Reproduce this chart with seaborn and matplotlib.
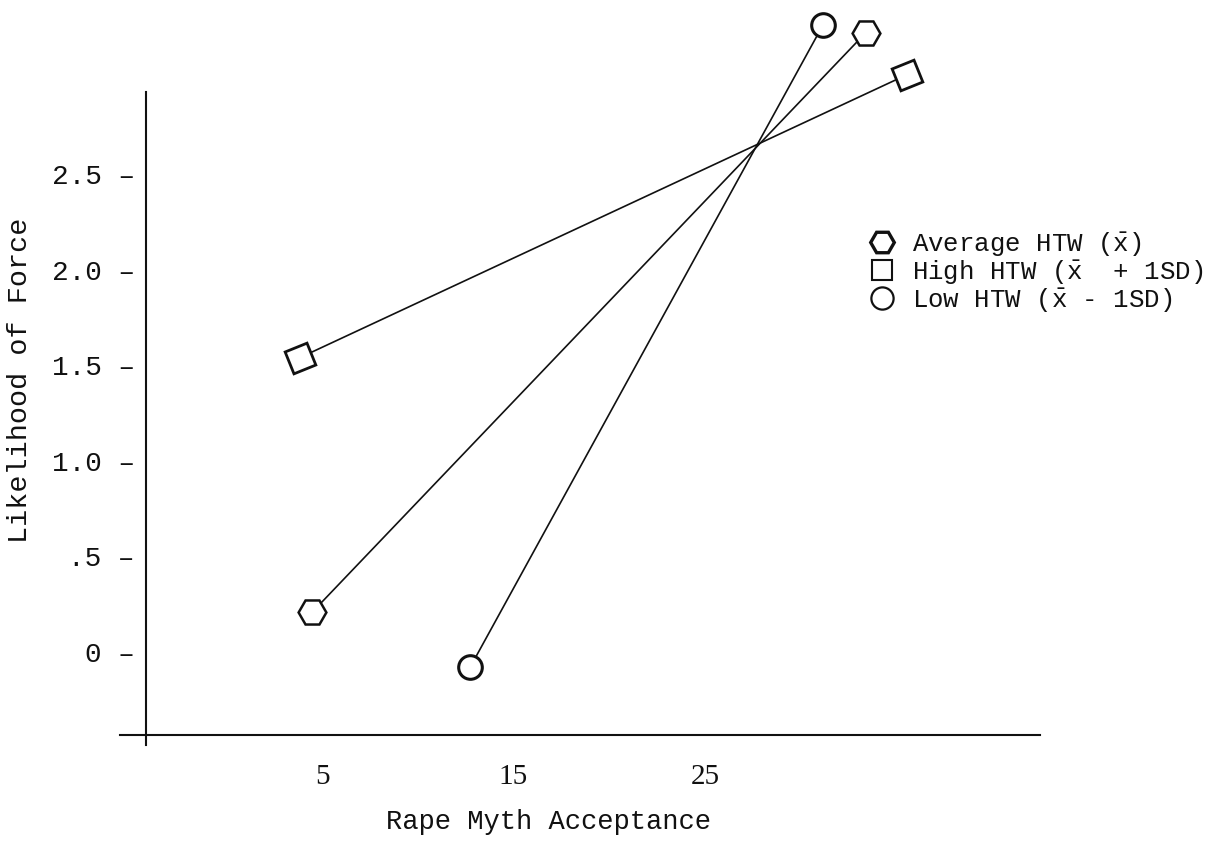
import matplotlib
matplotlib.use("Agg")
import matplotlib.pyplot as plt
from matplotlib.lines import Line2D
import seaborn as sns
import pandas as pd

# Data
groups = ["Average HTW", "High HTW", "Low HTW"]
avg_x = [4.5, 33.4]
avg_y = [0.21, 3.24]
high_x = [3.85, 35.55]
high_y = [1.54, 3.02]
low_x = [12.73, 31.16]
low_y = [-0.08, 3.28]

legend_labels = [r"Average HTW ($\bar{\mathrm{x}}$)",
                 r"High HTW ($\bar{\mathrm{x}}$  + 1SD)",
                 r"Low HTW ($\bar{\mathrm{x}}$ - 1SD)"]
x_ticks = [5, 15, 25]
y_ticks = [0, 0.5, 1.0, 1.5, 2.0, 2.5]
y_ticklabels = ["0 \u2013", ".5 \u2013", "1.0 \u2013", "1.5 \u2013", "2.0 \u2013", "2.5 \u2013"]

df = pd.DataFrame({
    "group": [groups[0]] * 2 + [groups[1]] * 2 + [groups[2]] * 2,
    "rma": avg_x + high_x + low_x,
    "force": avg_y + high_y + low_y,
})

sns.set_style("white")
mono = "Liberation Mono"
serif = "Liberation Serif"
plt.rcParams["mathtext.fontset"] = "custom"
plt.rcParams["mathtext.rm"] = mono
plt.rcParams["mathtext.it"] = mono
plt.rcParams["mathtext.bf"] = mono

ink = "#111111"
W, H = 1225, 861
fig = plt.figure(figsize=(W / 100, H / 100), dpi=100)
left_px, right_px, top_px, bot_px = 120, 1040, 92, 745
ax = fig.add_axes([left_px / W, 1 - bot_px / H, (right_px - left_px) / W, (bot_px - top_px) / H])

style = {
    groups[0]: dict(marker="H", markersize=20, markeredgewidth=1.8),
    groups[1]: dict(marker=(4, 0, 67), markersize=24, markeredgewidth=2.0),
    groups[2]: dict(marker="o", markersize=17, markeredgewidth=2.2),
}
for g in groups:
    sub = df[df["group"] == g]
    sns.lineplot(data=sub, x="rma", y="force", color=ink, linewidth=1.2,
                 markerfacecolor="white", markeredgecolor=ink, legend=False, ax=ax,
                 errorbar=None, sort=False, clip_on=False, **style[g])

ax.set_xlim(-5.55, 42.49)
ax.set_ylim(-0.486, 2.929)

for s in ["top", "right"]:
    ax.spines[s].set_visible(False)
ax.spines["left"].set_position(("data", -4.19))
ax.spines["bottom"].set_position(("data", -0.434))
for s in ["left", "bottom"]:
    ax.spines[s].set_color(ink)
    ax.spines[s].set_linewidth(1.5)

ax.set_xticks(x_ticks)
ax.set_xticklabels([str(t) for t in x_ticks], fontfamily=serif, fontsize=21)
ax.set_yticks(y_ticks)
ax.set_yticklabels(y_ticklabels, fontfamily=mono, fontsize=20)
ax.tick_params(axis="x", length=0, pad=21, colors=ink)
ax.tick_params(axis="y", length=0, pad=8, colors=ink)

ax.set_xlabel("")
ax.set_ylabel("")
fig.text(549 / W, 1 - 822 / H, "Rape Myth Acceptance", fontfamily=mono, fontsize=19.5,
         ha="center", va="center", color=ink)
fig.text(20 / W, 1 - 380 / H, "Likelihood of Force", fontfamily=mono, fontsize=20.5,
         ha="center", va="center", rotation=90, color=ink)

handles = [
    Line2D([], [], ls="none", marker="H", ms=17, mfc="white", mec=ink, mew=2.4),
    Line2D([], [], ls="none", marker="s", ms=15, mfc="white", mec=ink, mew=1.5),
    Line2D([], [], ls="none", marker="o", ms=16, mfc="white", mec=ink, mew=1.6),
]
leg = fig.legend(handles, legend_labels, loc="upper left",
                 bbox_to_anchor=(870 / W, 1 - 230 / H), frameon=False,
                 prop={"family": mono, "size": 18.5}, handlelength=0.9,
                 handletextpad=0.75, labelspacing=0.0, borderpad=0, borderaxespad=0)
for t in leg.get_texts():
    t.set_color(ink)

fig.savefig("out.png", dpi=100, facecolor="white")
